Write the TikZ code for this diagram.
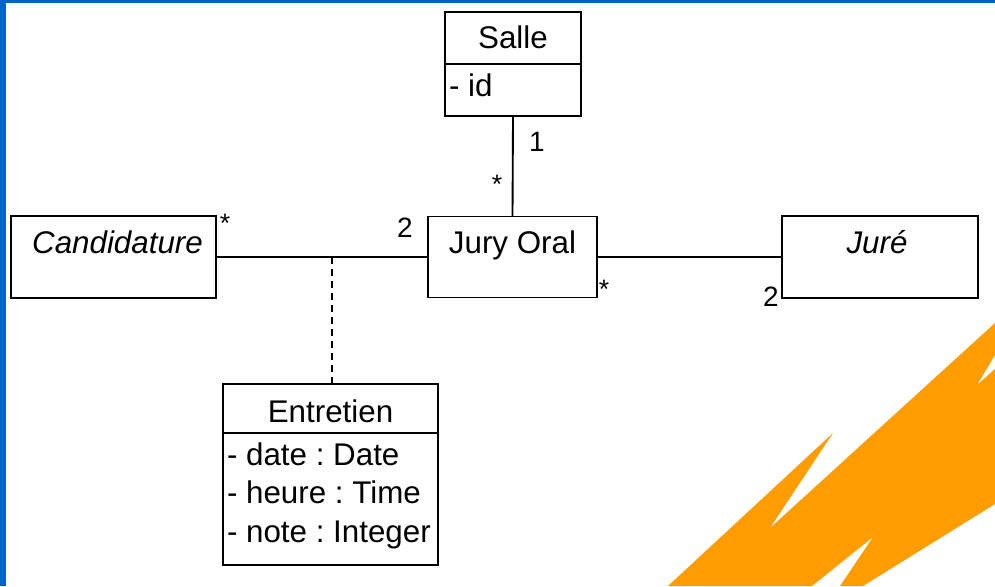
\documentclass[tikz,border=0pt]{standalone}
\usepackage{fontspec}
\setmainfont{Liberation Sans}
\frenchspacing
\definecolor{frameblue}{RGB}{0,99,200}
\definecolor{bolt}{RGB}{255,157,0}
\begin{document}
\begin{tikzpicture}[x=0.75pt,y=-0.75pt,
  every node/.style={inner sep=0pt, outer sep=0pt},
  classbox/.style={draw=black, line width=1.4pt, fill=white, rectangle},
  cname/.style={font=\fontsize{23.5}{28}\selectfont, anchor=base},
  attr/.style={font=\fontsize{23.5}{28}\selectfont, anchor=base west},
  mult/.style={font=\fontsize{21}{25}\selectfont, anchor=base},
  star/.style={font=\fontsize{20}{24}\selectfont, anchor=center},
  link/.style={line width=1.4pt},
  assocclass/.style={line width=1.4pt, dash pattern=on 5.5pt off 3.5pt},
]
\useasboundingbox (0,0) rectangle (995,586);
\fill[white] (0,0) rectangle (995,586);

% slide frame
\fill[frameblue] (0,0) rectangle (995,2.5);
\fill[frameblue] (0,0) rectangle (6,586);

% lightning bolt decoration
\fill[bolt] (995,323) -- (770,528) -- (833,433) -- (668,586) -- (812,586)
  -- (873,537) -- (840,586) -- (863,586) -- (995,504) -- (995,369)
  -- (977,385) -- (995,355) -- cycle;

% classes
\node[classbox, minimum width=102pt, minimum height=39pt] (salle) at (513,38) {};
\node[classbox, minimum width=102pt, minimum height=39pt] (salleattr) at (513,90) {};
\node[classbox, minimum width=126.75pt, minimum height=60.75pt] (jury) at (512.5,257) {};
\node[classbox, minimum width=153.75pt, minimum height=61.5pt] (cand) at (113.5,257) {};
\node[classbox, minimum width=147pt, minimum height=61.5pt] (jure) at (880,257) {};
\node[classbox, minimum width=161.25pt, minimum height=36.75pt] (ent) at (330.5,408.5) {};
\node[classbox, minimum width=161.25pt, minimum height=99pt] (entattr) at (330.5,499) {};

% class names and attributes
\node[cname] (sallename) at (513,48) {Salle};
\node[attr] (sallerow1) at (449,96) {- id};
\node[cname] (juryname) at (512.5,253) {Jury Oral};
\node[cname] (candname) at (117.5,253) {\itshape Candidature};
\node[cname] (jurename) at (877,253) {\itshape Juré};
\node[cname] (entname) at (330.5,422) {Entretien};
\node[attr] (entrow1) at (227,465) {- date : Date};
\node[attr] (entrow2) at (227,503) {- heure : Time};
\node[attr] (entrow3) at (227,542) {- note : Integer};

% associations
\draw[link] (salleattr.south) -- (jury.north);
\draw[link] (cand.east) -- (jury.west);
\draw[link] (jury.east) -- (jure.west);
\coordinate (assoc) at (332,257);
\draw[assocclass] (assoc) -- (assoc |- ent.north);

% multiplicities
\node[mult] (m1) at (537,151) {1};
\node[star] (m2) at (497,184) {*};
\node[mult] (m3) at (405,237) {2};
\node[star] (m4) at (225,223) {*};
\node[star] (m5) at (604,289) {*};
\node[mult] (m6) at (771,306) {2};
\end{tikzpicture}
\end{document}
